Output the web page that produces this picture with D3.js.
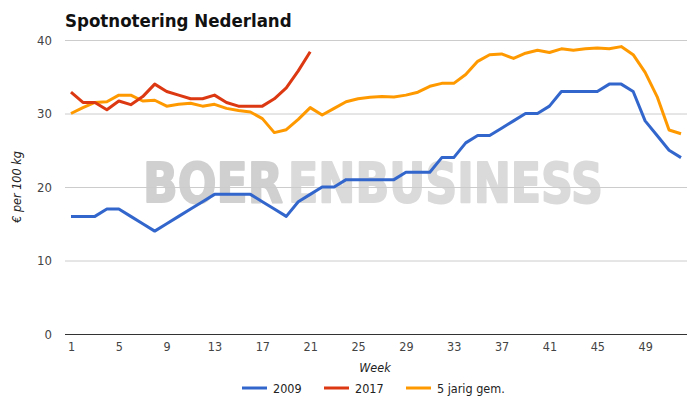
<!DOCTYPE html>
<html>
<head>
<meta charset="utf-8">
<script src="https://cdn.jsdelivr.net/npm/d3@7"></script>
<style>
  html, body { margin: 0; padding: 0; background: #fff; }
  svg { display: block; }
</style>
</head>
<body>
<svg id="chart" width="700" height="405"></svg>
<script>
const weeks = d3.range(1, 53);
const xTicks = [1, 5, 9, 13, 17, 21, 25, 29, 33, 37, 41, 45, 49];
const yTicks = [0, 10, 20, 30, 40];
const seriesNames = ["2009", "2017", "5 jarig gem."];
const seriesColors = ["#3366cc", "#dc3912", "#ff9900"];
const values2009 = [16,16,16,17,17,16,15,14,15,16,17,18,19,19,19,19,18,17,16,18,19,20,20,21,21,21,21,21,22,22,22,24,24,26,27,27,28,29,30,30,31,33,33,33,33,34,34,33,29,27,25,24];
const values2017 = [32.9,31.5,31.5,30.5,31.7,31.2,32.3,34,33,32.5,32,32,32.5,31.5,31,31,31,32,33.5,35.8,38.4];
const values5jr = [30.0,30.8,31.5,31.6,32.5,32.5,31.7,31.8,31.0,31.25,31.4,31.0,31.25,30.7,30.4,30.2,29.3,27.4,27.8,29.2,30.8,29.8,30.7,31.6,32.0,32.2,32.3,32.25,32.5,32.9,33.7,34.1,34.1,35.3,37.1,38.0,38.1,37.5,38.2,38.6,38.3,38.8,38.6,38.8,38.9,38.8,39.1,38.0,35.6,32.3,27.75,27.25];

const svg = d3.select("#chart");
const pLeft = 65, pRight = 687, pTop = 40, pBottom = 334;
const x = d3.scaleLinear().domain([0.5, 52.5]).range([pLeft, pRight]);
const y = d3.scaleLinear().domain([0, 40]).range([pBottom, pTop]);
const font = "'DejaVu Sans Condensed', 'DejaVu Sans', sans-serif";

// title
svg.append("text").attr("x", 65).attr("y", 27)
  .attr("font-family", font).attr("font-weight", "bold").attr("font-size", 18.5)
  .attr("fill", "#111").text("Spotnotering Nederland");

// watermark (horizontally compressed via transform)
[["BOER", 143, 140, "#d0d0d0"], ["ENBUSINESS", 288, 315, "#dadada"]].forEach(([t, wx, wl, c]) => {
  const g = svg.append("g");
  const tx = g.append("text").attr("x", 0).attr("y", 0)
    .attr("font-family", "'DejaVu Sans', sans-serif").attr("font-weight", "bold")
    .attr("font-size", 55)
    .attr("fill", c).attr("stroke", c).attr("stroke-width", 2).attr("stroke-linejoin", "round")
    .text(t);
  const w = tx.node().getComputedTextLength();
  g.attr("transform", `translate(${wx},202) scale(${wl / w},1)`);
});

// gridlines
svg.append("g").selectAll("line").data(yTicks.filter(d => d > 0)).join("line")
  .attr("x1", pLeft).attr("x2", pRight)
  .attr("y1", d => y(d) + 0.5).attr("y2", d => y(d) + 0.5)
  .attr("stroke", "#cccccc").attr("stroke-width", 1);

// y axis labels
const yAxis = d3.axisLeft(y).tickValues(yTicks).tickSize(0).tickPadding(13);
const gy = svg.append("g").attr("transform", `translate(${pLeft},0)`).call(yAxis);
gy.select(".domain").remove();
gy.selectAll("text").attr("font-family", font).attr("font-size", 13).attr("fill", "#444");

// x axis
const xAxis = d3.axisBottom(x).tickValues(xTicks).tickSize(0).tickPadding(8);
const gx = svg.append("g").attr("transform", `translate(0,${pBottom})`).call(xAxis);
gx.select(".domain").attr("stroke", "#333").attr("d", `M${pLeft},0.5H${pRight}`);
gx.selectAll("text").attr("font-family", font).attr("font-size", 12.5).attr("fill", "#444");

// axis titles
svg.append("text").attr("x", 375).attr("y", 372).attr("text-anchor", "middle")
  .attr("font-family", font).attr("font-style", "italic").attr("font-size", 12.5)
  .attr("fill", "#222").text("Week");
svg.append("text").attr("transform", "translate(21,187) rotate(-90)").attr("text-anchor", "middle")
  .attr("font-family", font).attr("font-style", "italic").attr("font-size", 12.5)
  .attr("fill", "#222").text("€ per 100 kg");

// lines
const allSeries = [values2009, values2017, values5jr];
const line = d3.line().x((d, i) => x(weeks[i])).y(d => y(d));
const order = [2, 0, 1];
order.forEach(k => {
  svg.append("path").datum(allSeries[k]).attr("d", line)
    .attr("fill", "none").attr("stroke", seriesColors[k]).attr("stroke-width", 3)
    .attr("stroke-linejoin", "round");
});

// legend
const legendX = [242, 324, 406];
const lg = svg.append("g");
seriesNames.forEach((n, i) => {
  lg.append("line").attr("x1", legendX[i]).attr("x2", legendX[i] + 25)
    .attr("y1", 388).attr("y2", 388).attr("stroke", seriesColors[i]).attr("stroke-width", 3);
  lg.append("text").attr("x", legendX[i] + 31).attr("y", 392.5)
    .attr("font-family", font).attr("font-size", 12.5).attr("fill", "#222").text(n);
});
</script>
</body>
</html>
